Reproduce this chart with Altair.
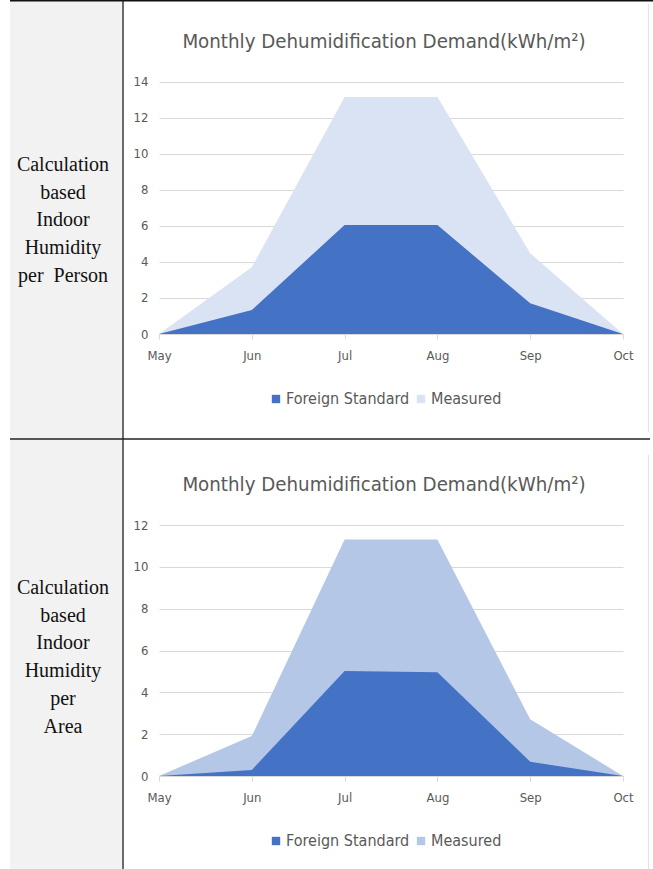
import altair as alt
import pandas as pd

# Monthly dehumidification demand (kWh/m2), two calculation bases
months = ["May", "Jun", "Jul", "Aug", "Sep", "Oct"]
series = ["Foreign Standard", "Measured"]

person_foreign = [0, 1.33, 6.05, 6.05, 1.7, 0]
person_measured = [0, 3.7, 13.15, 13.15, 4.48, 0]

area_foreign = [0, 0.29, 5.02, 4.96, 0.68, 0]
area_measured = [0, 1.91, 11.31, 11.31, 2.71, 0]

row_labels = [
    ["Calculation", "based", "Indoor", "Humidity", "per\u00a0 Person"],
    ["Calculation", "based", "Indoor", "Humidity", "per", "Area"],
]
panel_title = "Monthly Dehumidification Demand(kWh/m\u00b2)"

W, H = 653, 869
SANS = "Liberation Sans Narrow, DejaVu Sans Condensed, sans-serif"
SERIF = "Liberation Serif, Times New Roman, serif"
GREY_TXT = "#595959"
GRID = "#d9d9d9"
BLUE = "#4472C4"


def panel(foreign, measured, ymax, y_range, light, legend_y):
    data = pd.concat([
        pd.DataFrame({"month": months, "value": measured, "series": series[1]}),
        pd.DataFrame({"month": months, "value": foreign, "series": series[0]}),
    ])
    x = alt.X(
        "month:O",
        sort=months,
        scale=alt.Scale(type="point", domain=months, range=[159, 623], padding=0),
        axis=alt.Axis(
            orient="bottom", offset=-(H - y_range[0]), title=None, labelAngle=0,
            grid=False, domainColor=GRID, tickColor=GRID, tickSize=5,
            labelPadding=10, labelFont=SANS, labelFontSize=13, labelColor=GREY_TXT,
        ),
    )
    y = alt.Y(
        "value:Q",
        stack=None,
        scale=alt.Scale(domain=[0, ymax], range=list(y_range), nice=False, zero=True),
        axis=alt.Axis(
            orient="left", offset=-156, title=None, values=list(range(0, ymax + 1, 2)),
            grid=True, gridColor=GRID, gridWidth=1, domain=False, ticks=False,
            labelPadding=8, labelFont=SANS, labelFontSize=13, labelColor=GREY_TXT,
        ),
    )
    color = alt.Color(
        "series:N",
        scale=alt.Scale(domain=series, range=[BLUE, light]),
        legend=alt.Legend(
            orient="none", legendX=268, legendY=legend_y, direction="horizontal",
            title=None, symbolType="square", symbolSize=70, symbolStrokeWidth=0,
            labelFont=SANS, labelFontSize=16, labelColor=GREY_TXT,
            labelOffset=2, columnPadding=3,
        ),
    )
    base = alt.Chart(data).mark_area(opacity=1, interpolate="linear")
    back = base.transform_filter(alt.datum.series == series[1]).encode(x=x, y=y, color=color)
    front = base.transform_filter(alt.datum.series == series[0]).encode(x=x, y=y, color=color)
    return alt.layer(back, front)


top = panel(person_foreign, person_measured, 14, (334, 81.7), "#DAE3F3", 391)
bottom = panel(area_foreign, area_measured, 12, (776, 525), "#B4C7E7", 833)

# table frame: grey label column, borders
label_bg = alt.Chart().mark_rect(color="#f2f2f2").encode(
    x=alt.value(10), x2=alt.value(122), y=alt.value(0), y2=alt.value(H))
col_line = alt.Chart().mark_rule(color="#6b6b6b", strokeWidth=2).encode(
    x=alt.value(123), y=alt.value(0), y2=alt.value(H))
top_line = alt.Chart().mark_rule(color="#111111", strokeWidth=2).encode(
    x=alt.value(10), x2=alt.value(W), y=alt.value(0.5))
mid_line = alt.Chart().mark_rule(color="#222222", strokeWidth=1.5).encode(
    x=alt.value(10), x2=alt.value(650), y=alt.value(439))
edge_top = alt.Chart().mark_rule(color="#e3e3e3").encode(
    x=alt.value(648.5), y=alt.value(4), y2=alt.value(432))
edge_bottom = alt.Chart().mark_rule(color="#e3e3e3").encode(
    x=alt.value(648.5), y=alt.value(455), y2=alt.value(H))

labels = [
    alt.Chart().mark_text(text=row_labels[0], font=SERIF, fontSize=20, lineHeight=27.7,
                          color="#111111", align="center", baseline="middle").encode(
        x=alt.value(63), y=alt.value(165)),
    alt.Chart().mark_text(text=row_labels[1], font=SERIF, fontSize=20, lineHeight=27.7,
                          color="#111111", align="center", baseline="middle").encode(
        x=alt.value(63), y=alt.value(588)),
]
titles = [
    alt.Chart().mark_text(text=panel_title, font=SANS, fontSize=20.3, color=GREY_TXT,
                          align="center", baseline="middle").encode(
        x=alt.value(384), y=alt.value(42)),
    alt.Chart().mark_text(text=panel_title, font=SANS, fontSize=20.3, color=GREY_TXT,
                          align="center", baseline="middle").encode(
        x=alt.value(384), y=alt.value(485)),
]

chart = alt.layer(
    label_bg, *labels, *titles, top, bottom,
    col_line, top_line, mid_line, edge_top, edge_bottom,
).resolve_scale(
    x="independent", y="independent", color="independent"
).properties(
    width=W, height=H, padding=0, autosize=alt.AutoSizeParams(type="none"),
    background="white",
).configure_view(stroke=None)

chart.save("out.html", embed_options={"renderer": "svg", "actions": False})
